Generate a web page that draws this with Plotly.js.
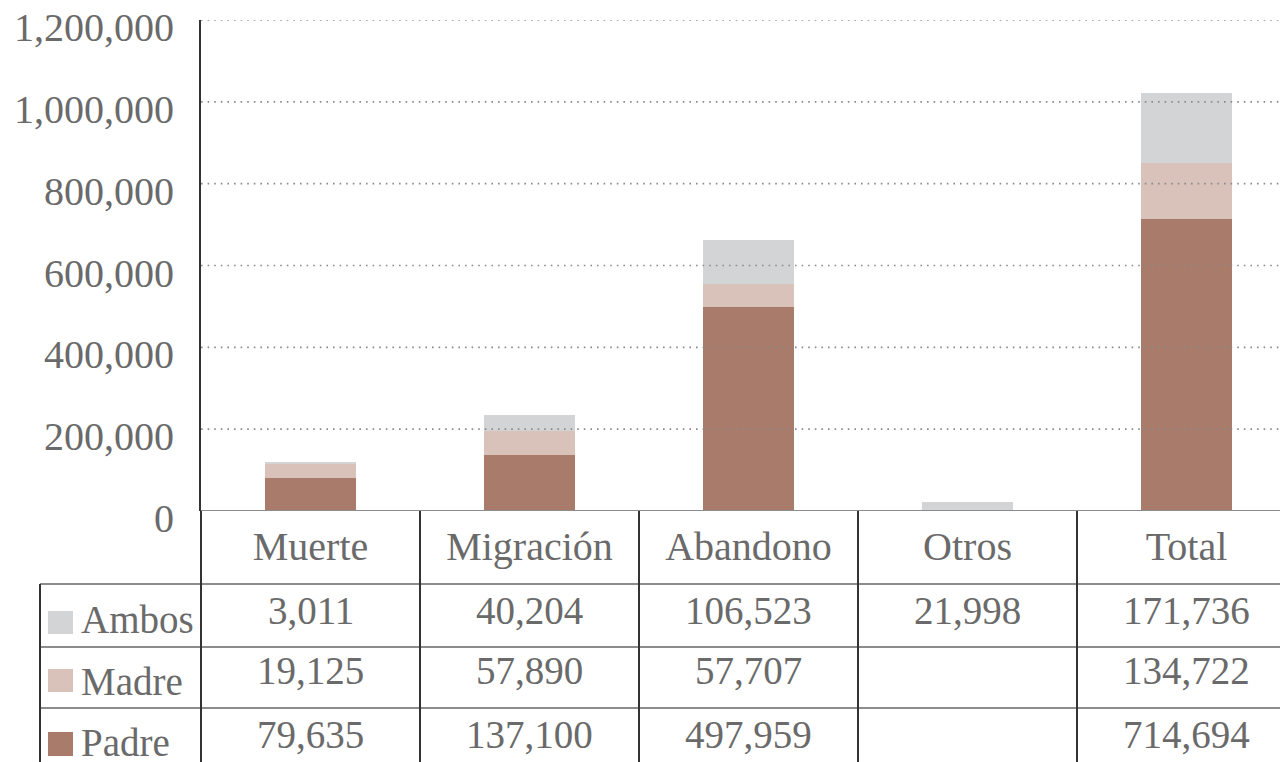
<!DOCTYPE html>
<html>
<head>
<meta charset="utf-8">
<script src="https://cdn.plot.ly/plotly-3.0.1.min.js"></script>
<style>
  html, body { margin: 0; padding: 0; background: #ffffff; }
  #chart { width: 1280px; height: 762px; }
</style>
</head>
<body>
<div id="chart"></div>
<script>
// ---- data (table values as printed) ----
const categories = ['Muerte', 'Migración', 'Abandono', 'Otros', 'Total'];
const seriesNames = ['Ambos', 'Madre', 'Padre'];
const ambos = [3011, 40204, 106523, 21998, 171736];
const madre = [19125, 57890, 57707, null, 134722];
const padre = [79635, 137100, 497959, null, 714694];
// bar segments as drawn in the picture (Muerte's Madre segment is drawn taller than its table value)
const ambosBar = [3011, 40204, 106523, 21998, 171736];
const madreBar = [36000, 57890, 57707, null, 134722];
const padreBar = [79635, 137100, 497959, null, 714694];
const yTicks = [0, 200000, 400000, 600000, 800000, 1000000, 1200000];

// ---- styles ----
const colors = { Ambos: '#d3d4d6', Madre: '#d9c2b9', Padre: '#a97b6a' };
const FONT = 'Liberation Serif, Times New Roman, serif';
const TXT = '#6a6a6a';
const FS = 39;
const FS_TICK = 40;
const W = 1280, H = 762;
const M = { l: 201, r: 0, t: 20, b: 251 };
const plotH = H - M.t - M.b;
const plotW = W - M.l - M.r;
const colW = 219; // px per category
const py = y => (H - M.b - y) / plotH;   // pixel y -> paper y
const px = x => (x - M.l) / plotW;       // pixel x -> paper x

// table geometry (pixel rows)
const rowLines = [584, 647, 708];
const tableBottom = 775;
const rowNumCenter = [610, 670, 734];
const rowLabelCenter = [619, 681, 742];
const swatch = [[611, 634], [669, 692], [732, 756]];
const rowData = { Ambos: ambos, Madre: madre, Padre: padre };

const fmt = v => (v === null || v === undefined) ? '' : v.toLocaleString('en-US');

const traces = [
  { name: 'Padre', y: padreBar },
  { name: 'Madre', y: madreBar },
  { name: 'Ambos', y: ambosBar }
].map(s => ({
  type: 'bar',
  x: categories,
  y: s.y,
  name: s.name,
  width: 0.42,
  marker: { color: colors[s.name], line: { width: 0 } },
  hoverinfo: 'x+y+name'
}));

const shapes = [];
// dotted gridlines drawn above bars
yTicks.filter(v => v > 0).forEach(v => {
  shapes.push({ type: 'line', xref: 'paper', yref: 'y', x0: 0, x1: 1, y0: v, y1: v,
    layer: 'above', line: { color: '#8a8a8a', width: 1.6, dash: '1.6px,5px' } });
});
// zero line / table top
shapes.push({ type: 'line', xref: 'paper', yref: 'y', x0: 0, x1: 1, y0: 0, y1: 0,
  layer: 'above', line: { color: '#8c8c8c', width: 2 } });
// horizontal table rules
rowLines.forEach(y => {
  shapes.push({ type: 'line', xref: 'paper', yref: 'paper', x0: px(40), x1: 1, y0: py(y), y1: py(y),
    layer: 'above', line: { color: '#8c8c8c', width: 2 } });
});
// vertical table rules: axis extension and column separators
shapes.push({ type: 'line', xref: 'paper', yref: 'paper', x0: 0, x1: 0, y0: py(tableBottom), y1: 0,
  line: { color: '#333333', width: 2 } });
for (let i = 0; i < categories.length - 1; i++) {
  shapes.push({ type: 'line', xref: 'x', yref: 'paper', x0: i + 0.5, x1: i + 0.5, y0: py(tableBottom), y1: 0,
    line: { color: '#333333', width: 2 } });
}
shapes.push({ type: 'line', xref: 'paper', yref: 'paper', x0: px(40), x1: px(40), y0: py(tableBottom), y1: py(rowLines[0]),
  line: { color: '#333333', width: 2 } });
// legend swatches
seriesNames.forEach((n, i) => {
  shapes.push({ type: 'rect', xref: 'paper', yref: 'paper', x0: px(48), x1: px(73),
    y0: py(swatch[i][1]), y1: py(swatch[i][0]), fillcolor: colors[n], line: { width: 0 } });
});

const annotations = [];
seriesNames.forEach((n, i) => {
  annotations.push({ xref: 'paper', yref: 'paper', x: px(79), y: py(rowLabelCenter[i]),
    xanchor: 'left', yanchor: 'middle', text: n, showarrow: false,
    font: { family: FONT, size: FS, color: TXT } });
  rowData[n].forEach((v, j) => {
    if (v === null) return;
    annotations.push({ xref: 'x', yref: 'paper', x: categories[j], y: py(rowNumCenter[i]),
      xanchor: 'center', yanchor: 'middle', text: fmt(v), showarrow: false,
      font: { family: FONT, size: FS, color: TXT } });
  });
});

const layout = {
  width: W, height: H,
  margin: M,
  paper_bgcolor: '#ffffff', plot_bgcolor: '#ffffff',
  barmode: 'stack',
  showlegend: false,
  font: { family: FONT, size: FS, color: TXT },
  xaxis: {
    type: 'category',
    range: [-0.5, -0.5 + plotW / colW],
    showgrid: false, zeroline: false, showline: false, ticks: '',
    tickfont: { family: FONT, size: FS + 1, color: TXT },
    ticklabelstandoff: 8,
    fixedrange: true
  },
  yaxis: {
    range: [0, 1200000],
    tickvals: yTicks,
    ticktext: yTicks.map(fmt),
    showgrid: false, zeroline: false,
    showline: true, linecolor: '#333333', linewidth: 2,
    ticks: '',
    ticklabelstandoff: 17,
    ticklabelshift: 7,
    ticklabeloverflow: 'allow',
    tickfont: { family: FONT, size: FS_TICK, color: TXT },
    fixedrange: true
  },
  shapes: shapes,
  annotations: annotations
};

Plotly.newPlot('chart', traces, layout, { displayModeBar: false, staticPlot: true });
</script>
</body>
</html>
